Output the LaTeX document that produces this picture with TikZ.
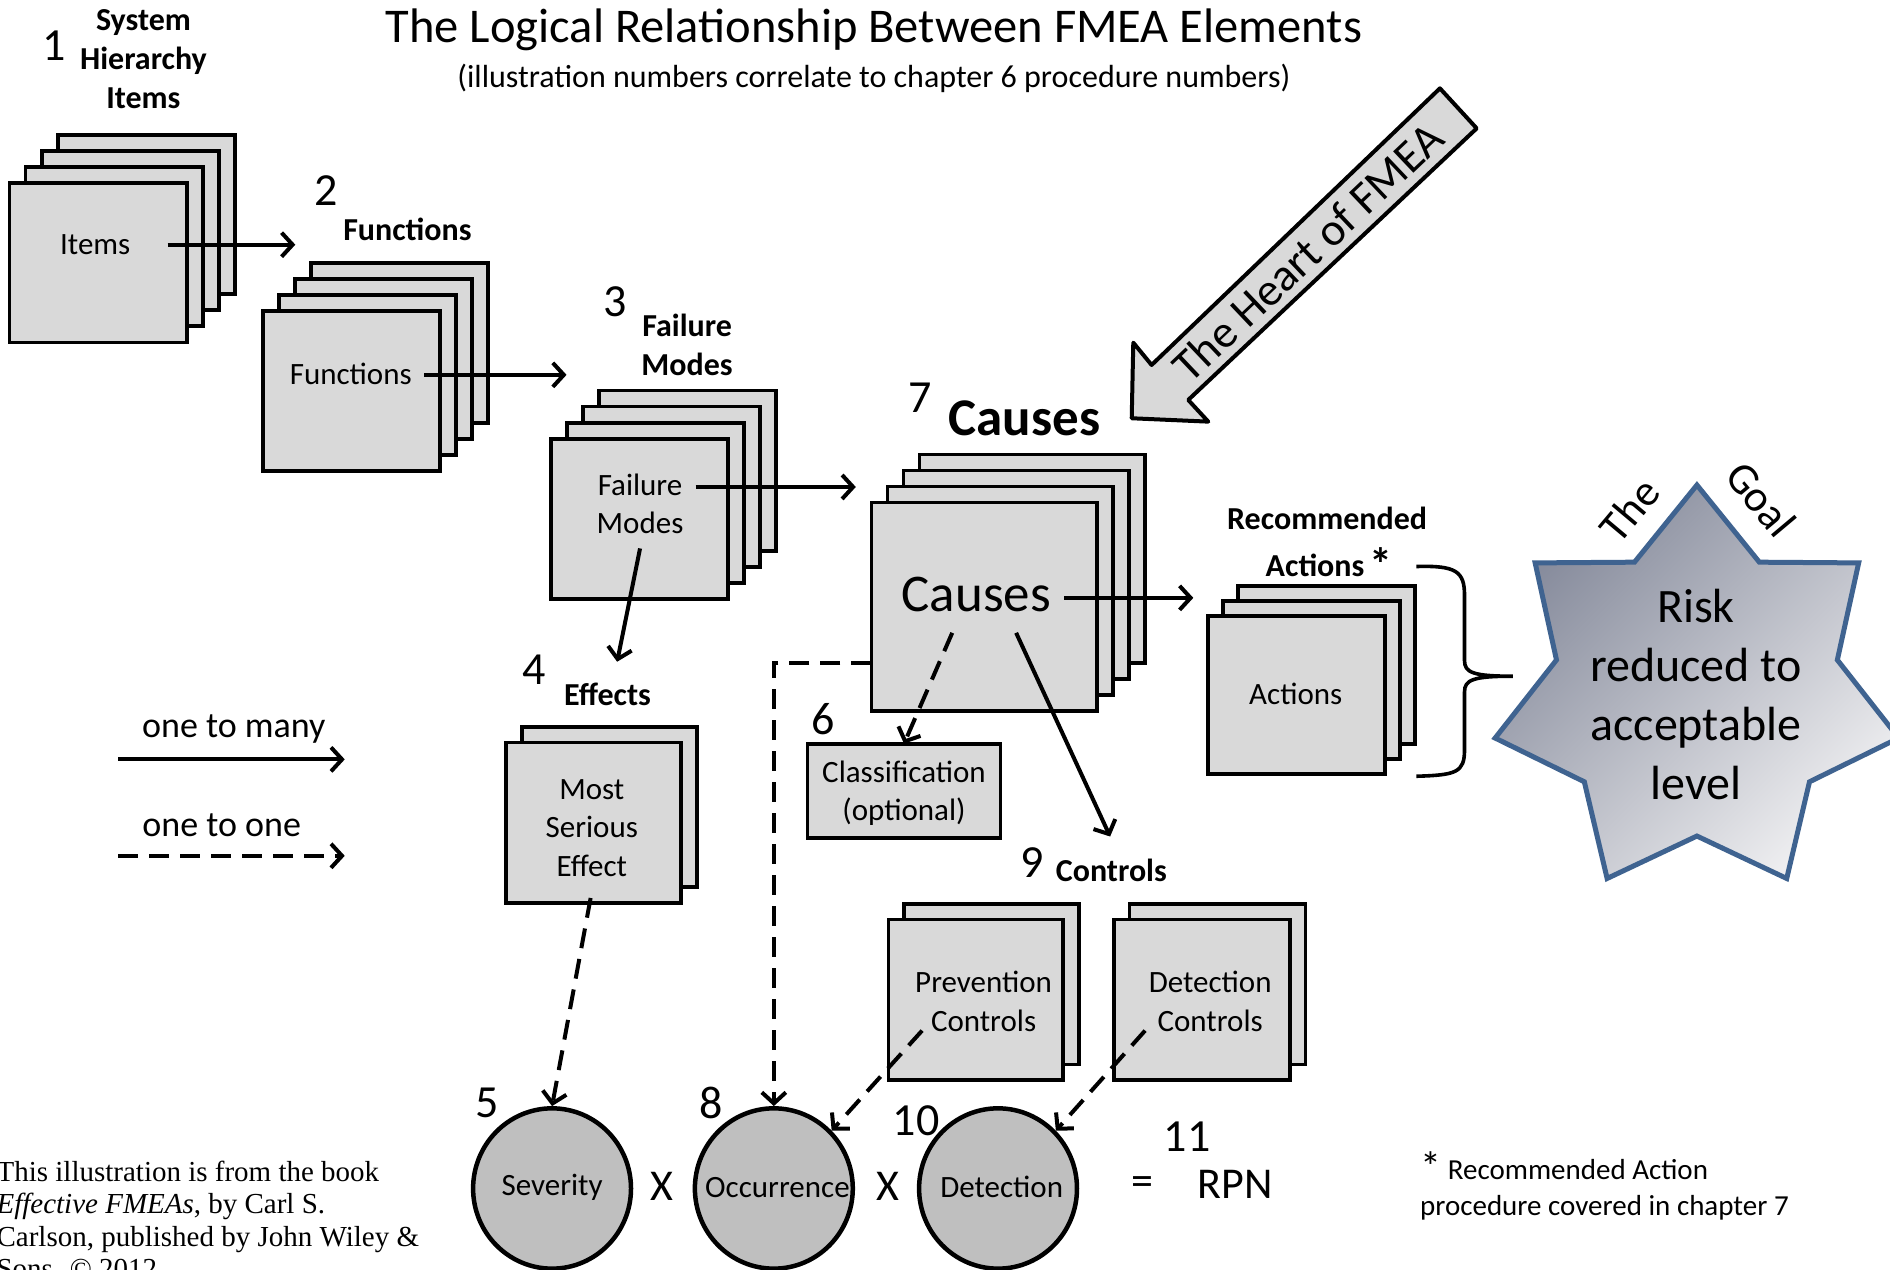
\documentclass[tikz,border=0pt]{standalone}
\usepackage{fontspec}
\setmainfont{Carlito}
\newfontfamily\creditfont{Liberation Serif}
\usetikzlibrary{arrows.meta,shapes.geometric,calc}
\definecolor{cardfill}{HTML}{D9D9D9}
\definecolor{circfill}{HTML}{BFBFBF}
\definecolor{starline}{HTML}{3F6390}
\definecolor{stardark}{HTML}{858A9B}
\definecolor{starlight}{HTML}{EFEFF1}
\def\pxu{1.2054pt}
\newcommand{\fsz}[2]{\fontsize{#1}{#2}\selectfont}
\newcommand{\stack}[7]{%
  \foreach \k in {#6,...,1}{%
    \pgfmathsetmacro\dd{(\k-1)*#7}%
    \node[card, minimum width=#4*\pxu, minimum height=#5*\pxu, anchor=north west] (#1\k) at ({#2+\dd},{#3-\dd}) {};
  }}
\begin{document}
\begin{tikzpicture}[x=1.2054pt,y=-1.2054pt,
  card/.style={draw=black, fill=cardfill, line width=3.6pt, inner sep=0pt, outer sep=0pt},
  boxtext/.style={font=\fsz{31}{38.6}, align=center, inner sep=0pt},
  lbl/.style={font=\bfseries\fsz{32}{38.6}, align=center, inner sep=0pt},
  num/.style={font=\fsz{46}{50}, inner sep=0pt},
  op/.style={font=\fsz{44}{48}, inner sep=0pt},
  onemany/.style={line width=4pt, -{Straight Barb[length=11pt,width=24pt]}},
  oneone/.style={line width=4pt, dash pattern=on 20pt off 11pt, -{Straight Barb[length=11pt,width=24pt]}},
  rating/.style={ellipse, draw=black, fill=circfill, line width=4.5pt, minimum width=131*\pxu, minimum height=133*\pxu, inner sep=0pt},
  ratingtext/.style={font=\fsz{31}{38}, inner sep=0pt},
  heart/.style={draw=black, fill=cardfill, line width=4pt, line join=round},
]
\useasboundingbox (0,0) rectangle (1568,1053);
\fill[white] (0,0) rectangle (1568,1053);
\clip (0,0) rectangle (1568,1053);

% titles
\node[font=\fsz{48.5}{55}, inner sep=0pt] (title) at (725,25) {The Logical Relationship Between FMEA Elements};
\node[font=\fsz{32}{36}, inner sep=0pt] (sub) at (725,65) {(illustration numbers correlate to chapter 6 procedure numbers)};

% stacks
\stack{items}{8}{152}{147}{132}{4}{13.3}
\node[boxtext] (itemsT) at (79,203) {Items};
\stack{func}{218}{258}{147}{133}{4}{13.3}
\node[boxtext] (funcT) at (291,310) {Functions};
\stack{fm}{457}{364}{147}{133}{4}{13.3}
\node[boxtext] (fmT) at (531,418) {Failure\\Modes};
\stack{eff}{420}{616}{145}{133}{2}{13}
\node[boxtext] (effT) at (491,687) {Most\\Serious\\Effect};
\stack{caus}{723}{417}{187}{173}{4}{13.3}
\node[inner sep=0pt, font=\fsz{53}{60}] (causT) at (810,493) {Causes};
\stack{act}{1002}{511}{147}{131}{3}{12.5}
\node[boxtext] (actT) at (1075,576) {Actions};
\stack{prev}{737}{763}{145}{133}{2}{13}
\node[boxtext] (prevT) at (816,831) {Prevention\\Controls};
\stack{det}{924}{763}{146}{133}{2}{13}
\node[boxtext] (detT) at (1004,831) {Detection\\Controls};
\node[card, minimum width=160*\pxu, minimum height=78*\pxu, anchor=north west] (cls) at (670,617) {};
\node[boxtext] (clsT) at (750,658) {Classification\\(optional)};

% labels
\node[lbl] (l1) at (119,49) {System\\Hierarchy\\Items};
\node[lbl] (l2) at (338,190) {Functions};
\node[lbl] (l3) at (570,286) {Failure\\Modes};
\node[lbl] (l4) at (504,576) {Effects};
\node[font=\bfseries\fsz{53}{60}, inner sep=0pt] (l7) at (850,347) {Causes};
\node[lbl] (lrec) at (1101,430) {Recommended};
\node[lbl] (lact) at (1091,469) {Actions};
\node[font=\bfseries\fsz{46}{50}, inner sep=0pt] (ast) at (1146,468) {*};
\node[lbl] (l9) at (922,722) {Controls};

% numbers
\node[num] (n1) at (45,38) {1};
\node[num] (n2) at (271,158) {2};
\node[num] (n3) at (510,250) {3};
\node[num] (n4) at (443,556) {4};
\node[num] (n5) at (404,915) {5};
\node[num] (n6) at (683,597) {6};
\node[num] (n7) at (763,330) {7};
\node[num] (n8) at (590,915) {8};
\node[num] (n9) at (856,716) {9};
\node[num] (n10) at (760,930) {10};
\node[num] (n11) at (985,943) {11};

% ratings
\node[rating] (sev) at (458,986) {};
\node[rating] (occ) at (642,986) {};
\node[rating] (detc) at (828,986) {};
\node[ratingtext] (sevT) at (458,985) {Severity};
\node[ratingtext] (occT) at (645,985) {Occurrence};
\node[ratingtext] (detcT) at (831,985) {Detection};
\node[op] (x1) at (549,984) {X};
\node[op] (x2) at (737,984) {X};
\node[op] (eq) at (948,984) {=};
\node[op] (rpn) at (1025,983) {RPN};

% legend
\node[font=\fsz{36}{40}, inner sep=0pt] (lg1) at (194,605) {one to many};
\node[font=\fsz{36}{40}, inner sep=0pt] (lg2) at (184,685) {one to one};
\coordinate (lg1a) at (98,630); \coordinate (lg1b) at (286,630);
\coordinate (lg2a) at (98,710); \coordinate (lg2b) at (286,710);
\draw[onemany] (lg1a) -- (lg1b);
\draw[oneone] (lg2a) -- (lg2b);

% footnote
\node[font=\fsz{42}{44}, inner sep=0pt] (fnast) at (1187,968) {*};
\node[font=\fsz{29}{38}, anchor=west, inner sep=0pt] (fn1) at (1201,970) {Recommended Action};
\node[font=\fsz{29}{38}, anchor=west, inner sep=0pt] (fn2) at (1178,1002) {procedure covered in chapter 7};

% credit
\node[font=\creditfont\fsz{29}{32.5}, anchor=north west, align=left, inner sep=0pt] (credit) at (-3,963) {This illustration is from the book\\\emph{Effective FMEAs}, by Carl S.\\Carlson, published by John Wiley \&\\Sons. \copyright\ 2012};

% heart arrow
\draw[heart] (1194.6,73.3) -- (1225.1,106.5) -- (985.8,331.8) -- (1002.4,349.8) -- (938.9,347) -- (940.2,284.3) -- (955.4,302.8) -- cycle;
\node[rotate=43.5, font=\fsz{46}{50}, inner sep=0pt] (heartT) at (1085,209) {The Heart of FMEA};

% goal star
\draw[line width=5pt, draw=starline, top color=stardark, bottom color=starlight, shading angle=45, line join=miter]
 (1407.8,402.4) -- (1459.6,466.4) -- (1542.0,467.0) -- (1524.3,547.5) -- (1575.2,612.3) -- (1501.2,648.6) -- (1482.3,728.8) -- (1407.8,693.6) -- (1333.3,728.8) -- (1314.4,648.6) -- (1240.4,612.3) -- (1291.3,547.5) -- (1273.6,467.0) -- (1356.0,466.4) -- cycle;
\node[font=\fsz{48}{59}, align=center, inner sep=0pt] (goal) at (1407,576) {Risk\\reduced to\\acceptable\\level};
\node[rotate=50, font=\fsz{44}{48}, inner sep=0pt] (theT) at (1352,423) {The};
\node[rotate=-50, font=\fsz{44}{48}, inner sep=0pt] (goalT) at (1461,414) {Goal};

% brace
\draw[line width=3.6pt] (1175,470) .. controls (1208,469) and (1215,474) .. (1215,494) -- (1215,548) .. controls (1215,558) and (1222,561) .. (1255,561) .. controls (1222,561) and (1215,564) .. (1215,574) -- (1215,622) .. controls (1215,641) and (1208,643) .. (1175,644);

% connectors
\coordinate (a1s) at (139,203); \coordinate (a1e) at (245,203);
\coordinate (a2s) at (352,311); \coordinate (a2e) at (470,311);
\coordinate (a3s) at (577,404); \coordinate (a3e) at (710,404);
\coordinate (a4s) at (531,455); \coordinate (a4e) at (512,549);
\coordinate (a5s) at (490,745);
\coordinate (a6s) at (883,496); \coordinate (a6e) at (990,496);
\coordinate (a7s) at (790,525);
\coordinate (a8s) at (843,525); \coordinate (a8e) at (921,694);
\coordinate (a9s) at (723,550);
\coordinate (a10s) at (765,855);
\coordinate (a11s) at (950,855);
\draw[onemany] (a1s) -- (a1e);
\draw[onemany] (a2s) -- (a2e);
\draw[onemany] (a3s) -- (a3e);
\draw[onemany] (a4s) -- (a4e);
\draw[oneone] (a5s) -- (sev.north);
\draw[onemany] (a6s) -- (a6e);
\draw[oneone] (a7s) -- (cls.north);
\draw[onemany] (a8s) -- (a8e);
\draw[oneone] (a9s) -| (occ.north);
\draw[oneone] (a10s) -- (occ.45);
\draw[oneone] (a11s) -- (detc.45);
\end{tikzpicture}
\end{document}
